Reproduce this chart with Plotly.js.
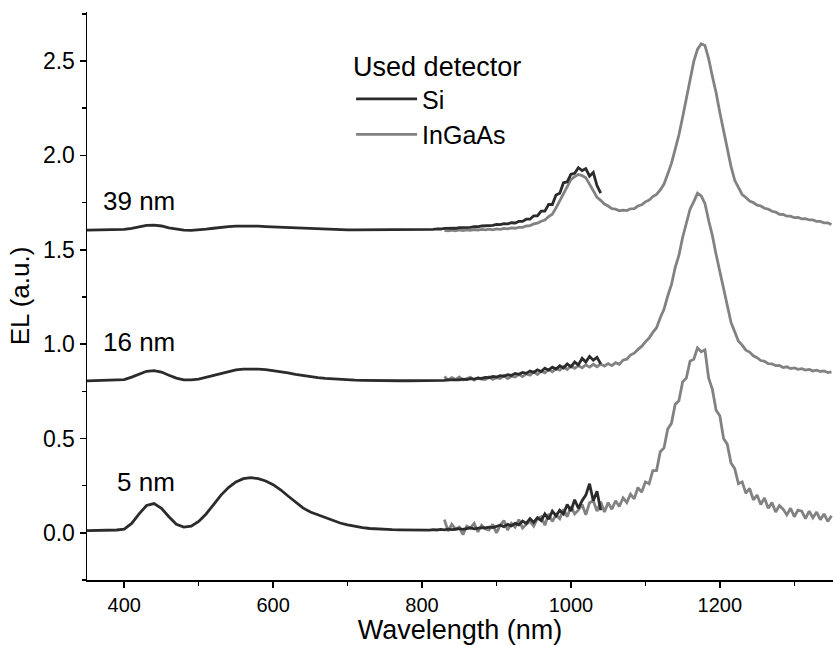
<!DOCTYPE html>
<html>
<head>
<meta charset="utf-8">
<script src="https://cdn.plot.ly/plotly-3.0.1.min.js"></script>
<style>html,body{margin:0;padding:0;background:#fff;}#chart{width:833px;height:646px;}</style>
</head>
<body>
<div id="chart"></div>
<script>
// Wavelength grids (nm)
const wlVis = [350,360,370,380,390,400,410,420,430,440,450,460,470,480,490,500,510,520,530,540,550,560,570,580,590,600,610,620,630,640,650,660,670,680,690,700,710,720,730,740,750,760,770,780,790,800];
const wlSiNir = [805,810,815,820,825,830,835,840,845,850,855,860,865,870,875,880,885,890,895,900,905,910,915,920,925,930,935,940,945,950,955,960,965,970,975,980,985,990,995,1000,1005,1010,1015,1020,1025,1030,1035,1040];
const wlInGaAs = [830,835,840,845,850,855,860,865,870,875,880,885,890,895,900,905,910,915,920,925,930,935,940,945,950,955,960,965,970,975,980,985,990,995,1000,1005,1010,1015,1020,1025,1030,1035,1040,1045,1050,1055,1060,1065,1070,1075,1080,1085,1090,1095,1100,1105,1110,1115,1120,1125,1130,1135,1140,1145,1150,1155,1160,1165,1170,1175,1180,1185,1190,1195,1200,1205,1210,1215,1220,1225,1230,1235,1240,1245,1250,1255,1260,1265,1270,1275,1280,1285,1290,1295,1300,1305,1310,1315,1320,1325,1330,1335,1340,1345,1350];

// 5 nm sample
const si5Vis = [0.012,0.012,0.013,0.013,0.015,0.02,0.05,0.10,0.145,0.155,0.13,0.085,0.045,0.03,0.035,0.06,0.10,0.15,0.20,0.24,0.27,0.287,0.292,0.287,0.275,0.255,0.228,0.195,0.163,0.132,0.11,0.095,0.078,0.065,0.052,0.042,0.034,0.028,0.023,0.02,0.018,0.017,0.016,0.015,0.015,0.015];
const si5Nir = [0.016,0.014,0.017,0.015,0.018,0.016,0.02,0.017,0.019,0.022,0.018,0.02,0.026,0.021,0.024,0.028,0.026,0.03,0.028,0.034,0.04,0.033,0.045,0.037,0.05,0.042,0.062,0.05,0.075,0.055,0.08,0.065,0.10,0.072,0.115,0.09,0.12,0.10,0.15,0.115,0.175,0.13,0.17,0.20,0.26,0.17,0.22,0.12];
const ig5 = [0.07,0.01,0.045,0.02,0.03,-0.01,0.035,0.025,0.05,0.005,0.04,0.02,0.015,0.045,0.0,0.04,0.065,0.015,0.05,0.03,0.07,0.025,0.045,0.06,0.035,0.075,0.085,0.04,0.10,0.06,0.095,0.075,0.125,0.085,0.14,0.10,0.12,0.15,0.095,0.16,0.17,0.115,0.165,0.11,0.16,0.125,0.17,0.14,0.185,0.16,0.205,0.18,0.24,0.215,0.27,0.26,0.33,0.33,0.43,0.45,0.55,0.58,0.68,0.70,0.80,0.82,0.91,0.92,0.98,0.96,0.97,0.82,0.76,0.65,0.62,0.50,0.47,0.37,0.34,0.26,0.27,0.21,0.235,0.175,0.20,0.15,0.185,0.13,0.16,0.11,0.145,0.125,0.095,0.13,0.085,0.12,0.115,0.075,0.115,0.08,0.11,0.07,0.10,0.06,0.09];

// 16 nm sample
const si16Vis = [0.805,0.806,0.806,0.807,0.808,0.812,0.825,0.842,0.856,0.86,0.852,0.835,0.82,0.811,0.81,0.815,0.825,0.837,0.848,0.857,0.864,0.868,0.869,0.868,0.865,0.86,0.854,0.847,0.84,0.833,0.827,0.822,0.818,0.815,0.812,0.81,0.809,0.808,0.807,0.806,0.806,0.806,0.806,0.806,0.806,0.806];
const si16Nir = [0.807,0.806,0.808,0.807,0.809,0.808,0.81,0.809,0.812,0.81,0.814,0.812,0.817,0.815,0.82,0.818,0.824,0.822,0.829,0.826,0.833,0.83,0.838,0.834,0.845,0.84,0.85,0.845,0.857,0.85,0.864,0.855,0.872,0.862,0.878,0.868,0.885,0.874,0.895,0.88,0.905,0.89,0.925,0.905,0.935,0.915,0.93,0.895];
const ig16 = [0.828,0.81,0.822,0.812,0.826,0.81,0.818,0.824,0.809,0.822,0.815,0.812,0.826,0.813,0.823,0.818,0.833,0.818,0.83,0.826,0.84,0.828,0.842,0.836,0.852,0.839,0.856,0.848,0.866,0.853,0.87,0.862,0.88,0.866,0.884,0.872,0.886,0.874,0.89,0.878,0.893,0.88,0.894,0.884,0.897,0.886,0.902,0.893,0.915,0.92,0.942,0.952,0.972,0.988,1.012,1.032,1.062,1.087,1.14,1.185,1.255,1.315,1.405,1.47,1.565,1.635,1.715,1.755,1.80,1.785,1.745,1.655,1.575,1.475,1.385,1.285,1.205,1.115,1.065,1.015,0.995,0.968,0.958,0.938,0.928,0.913,0.909,0.896,0.895,0.886,0.887,0.876,0.88,0.87,0.874,0.866,0.87,0.862,0.866,0.858,0.862,0.855,0.858,0.849,0.853];

// 39 nm sample
const si39Vis = [1.604,1.604,1.605,1.605,1.606,1.608,1.614,1.622,1.629,1.631,1.626,1.616,1.608,1.604,1.603,1.605,1.609,1.614,1.619,1.623,1.625,1.626,1.626,1.625,1.623,1.621,1.619,1.617,1.615,1.613,1.611,1.609,1.608,1.607,1.606,1.605,1.605,1.605,1.605,1.605,1.605,1.605,1.605,1.606,1.606,1.607];
const si39Nir = [1.607,1.609,1.608,1.611,1.61,1.613,1.612,1.615,1.614,1.617,1.617,1.62,1.619,1.623,1.622,1.626,1.626,1.63,1.629,1.634,1.633,1.638,1.637,1.643,1.642,1.65,1.65,1.662,1.662,1.68,1.68,1.705,1.705,1.74,1.74,1.79,1.80,1.855,1.86,1.90,1.905,1.935,1.92,1.93,1.89,1.91,1.84,1.80];
const ig39 = [1.603,1.6,1.604,1.601,1.605,1.602,1.606,1.603,1.607,1.604,1.608,1.605,1.609,1.606,1.611,1.608,1.613,1.611,1.616,1.614,1.619,1.619,1.626,1.628,1.637,1.641,1.651,1.658,1.676,1.688,1.722,1.758,1.802,1.838,1.872,1.888,1.899,1.893,1.882,1.848,1.812,1.778,1.762,1.742,1.732,1.718,1.715,1.707,1.71,1.708,1.717,1.718,1.732,1.738,1.754,1.763,1.782,1.793,1.817,1.848,1.902,1.958,2.032,2.108,2.202,2.298,2.402,2.498,2.562,2.592,2.583,2.512,2.418,2.332,2.228,2.132,2.028,1.942,1.868,1.827,1.793,1.777,1.758,1.75,1.736,1.732,1.72,1.716,1.704,1.70,1.688,1.687,1.678,1.678,1.67,1.671,1.664,1.665,1.658,1.658,1.65,1.65,1.642,1.642,1.634];

const sampleLabels = ['5 nm','16 nm','39 nm'];
const labelX = [471, 471, 471];
const labelY = [0.27, 1.01, 1.76];
const detectorNames = ['Si','InGaAs'];

const siColor = '#2b2b2b';
const igColor = '#828282';
const FONT = 'Liberation Sans, Arial, sans-serif';

const wlSi = wlVis.concat(wlSiNir);
const siSets = [si5Vis.concat(si5Nir), si16Vis.concat(si16Nir), si39Vis.concat(si39Nir)];
const igSets = [ig5, ig16, ig39];

const traces = [];
igSets.forEach((y, i) => traces.push({
  x: wlInGaAs, y: y, type: 'scatter', mode: 'lines',
  line: {color: igColor, width: 2.8},
  name: detectorNames[1], legendgroup: 'ig', showlegend: i === 0, legendrank: 2
}));
siSets.forEach((y, i) => traces.push({
  x: wlSi, y: y, type: 'scatter', mode: 'lines',
  line: {color: siColor, width: 2.8},
  name: detectorNames[0], legendgroup: 'si', showlegend: i === 0, legendrank: 1
}));

const annotations = sampleLabels.map((t, i) => ({
  x: labelX[i], y: labelY[i], xref: 'x', yref: 'y', xanchor: 'right', text: t, showarrow: false,
  font: {family: FONT, size: 26, color: '#000'}
}));

const layout = {
  width: 833, height: 646,
  margin: {l: 87, r: 0, t: 12, b: 66},
  paper_bgcolor: '#fff', plot_bgcolor: '#fff',
  font: {family: FONT, color: '#000'},
  showlegend: true,
  legend: {
    x: 0.354, y: 0.949, xanchor: 'left', yanchor: 'top',
    bgcolor: 'rgba(0,0,0,0)', font: {family: FONT, size: 25, color: '#000'},
    title: {text: 'Used detector', font: {family: FONT, size: 27, color: '#000'}},
    itemwidth: 61, tracegroupgap: 0
  },
  xaxis: {
    range: [350, 1352], showline: true, linecolor: '#000', linewidth: 1.5,
    ticks: 'outside', ticklen: 6, tickwidth: 1.5, tickcolor: '#000',
    dtick: 200, tick0: 0, showgrid: false, zeroline: false,
    minor: {dtick: 100, ticks: 'outside', ticklen: 4, tickwidth: 1.5, tickcolor: '#000', showgrid: false},
    tickfont: {family: FONT, size: 20, color: '#000'},
    title: {text: 'Wavelength (nm)', font: {family: FONT, size: 27, color: '#000'}, standoff: 0}
  },
  yaxis: {
    range: [-0.25, 2.76], showline: true, linecolor: '#000', linewidth: 1.5,
    ticks: 'outside', ticklen: 6, tickwidth: 1.5, tickcolor: '#000',
    dtick: 0.5, tick0: 0, tickformat: '.1f', showgrid: false, zeroline: false,
    minor: {dtick: 0.25, ticks: 'outside', ticklen: 4, tickwidth: 1.5, tickcolor: '#000', showgrid: false},
    tickfont: {family: FONT, size: 23, color: '#000'},
    title: {text: 'EL (a.u.)', font: {family: FONT, size: 26, color: '#000'}, standoff: 6}
  },
  annotations: annotations
};

Plotly.newPlot('chart', traces, layout, {displayModeBar: false, staticPlot: true});
</script>
</body>
</html>
